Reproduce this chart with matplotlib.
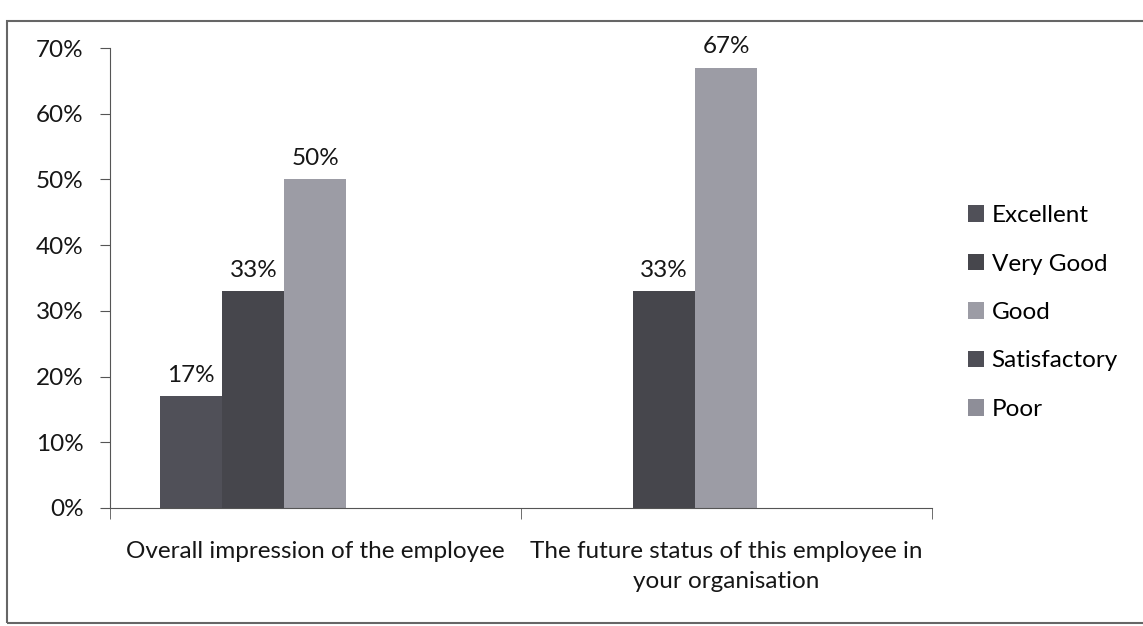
import matplotlib.pyplot as plt
import numpy as np
from matplotlib.patches import Rectangle

plt.rcParams['font.family'] = ['Lato', 'DejaVu Sans']

# data
categories = ['Overall impression of the employee',
              'The future status of this employee in\nyour organisation']
series = ['Excellent', 'Very Good', 'Good', 'Satisfactory', 'Poor']
excellent = [0.17, 0.0]
very_good = [0.33, 0.33]
good = [0.50, 0.67]
satisfactory = [0.0, 0.0]
poor = [0.0, 0.0]
values = [excellent, very_good, good, satisfactory, poor]
colors = ['#505058', '#46464c', '#9c9ca5', '#4e4e56', '#8e8e98']

fs = 17.5
tc = '#161616'

fig = plt.figure(figsize=(11.43, 6.26), dpi=100)
ax = fig.add_axes([0.0962, 0.1885, 0.719, 0.7348])

x = np.arange(len(categories))
w = 0.151
for i, (name, vals, c) in enumerate(zip(series, values, colors)):
    pos = x + (i - 2) * w
    ax.bar(pos, vals, w, color=c, label=name)
    for p, v in zip(pos, vals):
        if v > 0:
            ax.text(p, v + 0.016, f'{v:.0%}', ha='center', va='bottom', fontsize=fs, color=tc)

ax.set_xlim(-0.5, 1.5)
ax.set_ylim(0, 0.7)
ax.set_yticks(np.arange(0, 0.71, 0.1))
ax.set_yticklabels([f'{int(round(t*100))}%' for t in np.arange(0, 0.71, 0.1)], fontsize=fs, color=tc)
ax.set_xticks(x)
ax.set_xticklabels(categories, fontsize=fs, color=tc, linespacing=1.5)
ax.tick_params(axis='x', length=0, pad=24)
ax.set_xticks([-0.5, 0.5, 1.5], minor=True)
ax.tick_params(axis='x', which='minor', length=8, direction='out', color='#555555')
ax.tick_params(axis='y', length=7, direction='out', color='#555555', pad=12)
for s in ['top', 'right']:
    ax.spines[s].set_visible(False)
for s in ['left', 'bottom']:
    ax.spines[s].set_color('#555555')

ax.legend(loc='center left', bbox_to_anchor=(1.018, 0.425), frameon=False, fontsize=fs,
          handlelength=0.65, handleheight=0.65, handletextpad=0.3, labelspacing=1.13)

# outer chart frame
fig.patches.append(Rectangle((0.006, 0.005), 1.1, 0.962, transform=fig.transFigure,
                             fill=False, edgecolor='#666666', linewidth=1.5))

fig.savefig('out.png', dpi=100)
